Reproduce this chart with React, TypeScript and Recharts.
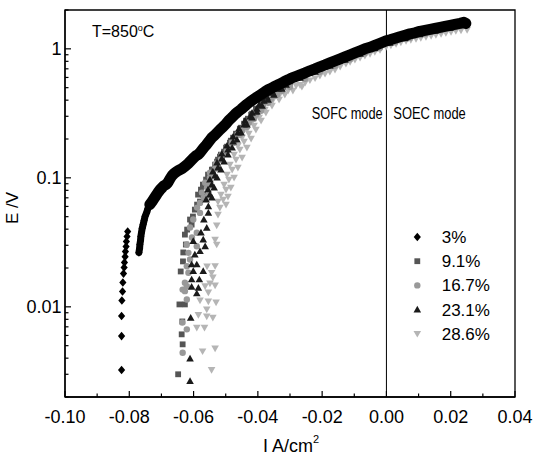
import React from 'react';
import {
  ScatterChart,
  Scatter,
  XAxis,
  YAxis,
  ReferenceLine,
  ReferenceArea,
  Customized,
} from 'recharts';

// ---------- tick values ----------
const xTicks = [-0.1, -0.09, -0.08, -0.07, -0.06, -0.05, -0.04, -0.03, -0.02, -0.01, 0, 0.01, 0.02, 0.03, 0.04];
const yMajorTicks = [0.01, 0.1, 1];
const yMinorTicks = [
  0.002, 0.003, 0.004, 0.005, 0.006, 0.007, 0.008, 0.009,
  0.02, 0.03, 0.04, 0.05, 0.06, 0.07, 0.08, 0.09,
  0.2, 0.3, 0.4, 0.5, 0.6, 0.7, 0.8, 0.9, 2,
];
const yTicks = [...yMinorTicks, ...yMajorTicks].sort((a, b) => a - b);

// ---------- series names ----------
const seriesNames = ['3%', '9.1%', '16.7%', '23.1%', '28.6%'];

// ---------- data: [I (A/cm2), E (V)] ----------
// 3% : isolated low-current column
const s3Column: [number, number][] = [
  [-0.0805, 0.0383], [-0.0807, 0.0351], [-0.0809, 0.0321], [-0.081, 0.0293], [-0.0812, 0.0268],
  [-0.0813, 0.0245], [-0.0815, 0.0221], [-0.0816, 0.0202], [-0.0818, 0.0181], [-0.082, 0.01545],
  [-0.0821, 0.01316], [-0.0823, 0.0112], [-0.0824, 0.00848], [-0.0824, 0.00593], [-0.0824, 0.00324],
];
// 3% : steep lower part of the dense band
const s3BandLow: [number, number][] = [
  [-0.077, 0.0264], [-0.0768, 0.0283], [-0.0767, 0.0304], [-0.0765, 0.0327], [-0.0764, 0.0351],
  [-0.0762, 0.0377], [-0.076, 0.0404], [-0.0757, 0.0434], [-0.0754, 0.0466], [-0.0751, 0.0501],
  [-0.0746, 0.0538], [-0.0742, 0.0578], [-0.0736, 0.062],
];
// 3% : rest of the dense band
const s3BandHigh: [number, number][] = [
  [-0.0736, 0.062], [-0.0729, 0.0655], [-0.0723, 0.0691],
  [-0.0717, 0.0728], [-0.0711, 0.0768], [-0.0704, 0.081], [-0.0698, 0.084], [-0.0692, 0.0871],
  [-0.0686, 0.0886], [-0.068, 0.0918], [-0.0673, 0.0986], [-0.0667, 0.104], [-0.0661, 0.1078],
  [-0.0655, 0.1107], [-0.0648, 0.1136], [-0.0642, 0.1157], [-0.0636, 0.1178], [-0.063, 0.121],
  [-0.0624, 0.1243], [-0.0617, 0.1288], [-0.0611, 0.1335], [-0.0605, 0.1383], [-0.0599, 0.1433],
  [-0.0592, 0.1485], [-0.0586, 0.1512], [-0.058, 0.1567], [-0.0574, 0.1638], [-0.0568, 0.1713],
  [-0.0561, 0.1791], [-0.0555, 0.1873], [-0.0549, 0.1957], [-0.0543, 0.2047], [-0.0536, 0.2121],
  [-0.053, 0.2198], [-0.0524, 0.2278], [-0.0518, 0.236], [-0.0508, 0.249], [-0.0499, 0.2628],
  [-0.049, 0.2796], [-0.048, 0.2949], [-0.0471, 0.3112], [-0.0462, 0.3254], [-0.0452, 0.3402],
  [-0.0443, 0.3557], [-0.0434, 0.3719], [-0.0424, 0.3888], [-0.0415, 0.4029], [-0.0406, 0.4175],
  [-0.0396, 0.4327], [-0.0387, 0.4484], [-0.0378, 0.4647], [-0.0368, 0.4817], [-0.0359, 0.4944],
  [-0.035, 0.508], [-0.034, 0.522], [-0.0331, 0.536], [-0.0319, 0.555], [-0.0306, 0.575],
  [-0.0294, 0.596], [-0.0281, 0.6125], [-0.0269, 0.629], [-0.0253, 0.652], [-0.0238, 0.676],
  [-0.0222, 0.7003], [-0.0207, 0.726], [-0.0191, 0.752], [-0.0176, 0.779], [-0.016, 0.807],
  [-0.0144, 0.837], [-0.0129, 0.867], [-0.0113, 0.899], [-0.0098, 0.931], [-0.0082, 0.965],
  [-0.0067, 1.0], [-0.0051, 1.027], [-0.0036, 1.064], [-0.002, 1.103], [-0.0001, 1.153],
  [0.0011, 1.174], [0.0027, 1.206], [0.0042, 1.239], [0.0058, 1.272], [0.0073, 1.306],
  [0.0089, 1.33], [0.0104, 1.366], [0.012, 1.39], [0.0136, 1.415], [0.0151, 1.441],
  [0.0167, 1.467], [0.0182, 1.493], [0.0198, 1.52], [0.0213, 1.547], [0.0229, 1.575],
  [0.0241, 1.604], [0.0247, 1.575],
];
const s91: [number, number][] = [
  [-0.0648, 0.003], [-0.0634, 0.00512], [-0.0637, 0.00612], [-0.0635, 0.0077], [-0.0644, 0.01044],
  [-0.0627, 0.01044], [-0.064, 0.0188], [-0.0633, 0.0225], [-0.0632, 0.0264], [-0.0624, 0.0304],
  [-0.0627, 0.0363], [-0.062, 0.0397], [-0.0606, 0.0434], [-0.0611, 0.0475], [-0.0602, 0.0501],
  [-0.0596, 0.0567], [-0.0589, 0.062], [-0.058, 0.0655], [-0.0586, 0.0741], [-0.0577, 0.081],
  [-0.0571, 0.0886], [-0.0561, 0.0969], [-0.0555, 0.1059], [-0.0543, 0.1157], [-0.0533, 0.1265],
  [-0.0524, 0.1383], [-0.0518, 0.1459], [-0.0505, 0.1595], [-0.0496, 0.1744], [-0.0487, 0.1873],
  [-0.0477, 0.2047], [-0.0468, 0.2198], [-0.0456, 0.2403], [-0.0443, 0.2628], [-0.0431, 0.2873],
  [-0.0418, 0.3141], [-0.0406, 0.3432], [-0.039, 0.3752], [-0.0375, 0.4102], [-0.0359, 0.4406],
  [-0.034, 0.4731], [-0.0322, 0.508], [-0.03, 0.5455], [-0.0269, 0.607], [-0.0238, 0.655],
  [-0.0207, 0.7003], [-0.0176, 0.752], [-0.0144, 0.807], [-0.0113, 0.866], [-0.0082, 0.931],
  [-0.004, 1.02], [-0.0001, 1.113], [0.0036, 1.19], [0.0073, 1.261], [0.0105, 1.315],
  [0.0136, 1.366], [0.0167, 1.418], [0.0198, 1.467], [0.0244, 1.534],
  [-0.0571, 0.0741], [-0.0564, 0.0871], [-0.0552, 0.1004], [-0.054, 0.1157], [-0.0527, 0.1335],
  [-0.0515, 0.1512], [-0.0499, 0.1713], [-0.0484, 0.194], [-0.0468, 0.216], [-0.0452, 0.2446],
  [-0.0437, 0.2772], [-0.0421, 0.3084], [-0.0403, 0.3432], [-0.0384, 0.382], [-0.0365, 0.4251],
];
const s167: [number, number][] = [
  [-0.0634, 0.00441], [-0.0621, 0.00669], [-0.0635, 0.00756], [-0.0621, 0.0114], [-0.0627, 0.01323],
  [-0.0634, 0.0136], [-0.0621, 0.01446], [-0.0627, 0.01537], [-0.0616, 0.01836], [-0.0621, 0.02065],
  [-0.0611, 0.0233], [-0.0616, 0.0262], [-0.059, 0.0295], [-0.0621, 0.0304], [-0.0605, 0.0345],
  [-0.059, 0.0375], [-0.0611, 0.0412], [-0.0601, 0.0475], [-0.058, 0.0535], [-0.0589, 0.0588],
  [-0.058, 0.0639], [-0.0568, 0.0703], [-0.0574, 0.0768], [-0.0558, 0.084], [-0.0564, 0.0918],
  [-0.0549, 0.1004], [-0.0549, 0.1097], [-0.0533, 0.1178], [-0.053, 0.1288], [-0.0515, 0.1383],
  [-0.0512, 0.1512], [-0.0496, 0.1624], [-0.049, 0.1744], [-0.0474, 0.1873], [-0.0471, 0.2011],
  [-0.0456, 0.216], [-0.0449, 0.2318], [-0.0434, 0.249], [-0.0428, 0.2675], [-0.0412, 0.2873],
  [-0.0406, 0.3084], [-0.039, 0.3312], [-0.0384, 0.3557], [-0.0368, 0.382], [-0.0359, 0.4102],
  [-0.034, 0.4406], [-0.0325, 0.4731], [-0.03, 0.508], [-0.0253, 0.5857], [-0.0207, 0.6637],
  [-0.016, 0.7385], [-0.0113, 0.8295], [-0.0067, 0.9229], [-0.002, 1.018], [0.0027, 1.123],
  [0.0073, 1.216], [0.012, 1.306], [0.0167, 1.39], [0.0213, 1.467], [0.0248, 1.52],
  [-0.0555, 0.0728], [-0.0549, 0.0871], [-0.054, 0.104], [-0.0524, 0.1221], [-0.0512, 0.1433],
  [-0.0496, 0.1653], [-0.048, 0.1906], [-0.0462, 0.2198], [-0.0443, 0.249], [-0.0424, 0.2822],
  [-0.0406, 0.3196], [-0.0387, 0.3557], [-0.0368, 0.3959], [-0.0347, 0.4327],
];
const s231: [number, number][] = [
  [-0.0611, 0.00266], [-0.0611, 0.00397], [-0.0609, 0.00823], [-0.059, 0.0127], [-0.0606, 0.0143],
  [-0.0585, 0.01405], [-0.0606, 0.0163], [-0.0582, 0.0163], [-0.0601, 0.0189], [-0.057, 0.0189],
  [-0.0606, 0.0213], [-0.059, 0.0213], [-0.0596, 0.0254], [-0.058, 0.027], [-0.0564, 0.0295],
  [-0.0601, 0.0323], [-0.057, 0.0332], [-0.0577, 0.0377], [-0.0559, 0.0409], [-0.0568, 0.0475],
  [-0.0554, 0.0535], [-0.0554, 0.0602], [-0.0561, 0.0678], [-0.0549, 0.0741], [-0.0555, 0.081],
  [-0.0543, 0.0886], [-0.0549, 0.0969], [-0.0533, 0.104], [-0.054, 0.1117], [-0.0524, 0.12],
  [-0.0527, 0.1311], [-0.0512, 0.1408], [-0.0512, 0.1539], [-0.0493, 0.1653], [-0.0496, 0.1775],
  [-0.0477, 0.1906], [-0.0477, 0.2084], [-0.0462, 0.2238], [-0.0459, 0.2403], [-0.0443, 0.2581],
  [-0.044, 0.2772], [-0.0424, 0.2977], [-0.0418, 0.3196], [-0.0403, 0.3432], [-0.0396, 0.3686],
  [-0.0381, 0.3959], [-0.0372, 0.4251], [-0.0353, 0.4566], [-0.0337, 0.4901], [-0.0312, 0.526],
  [-0.0269, 0.5964], [-0.0222, 0.6637], [-0.0176, 0.7385], [-0.0129, 0.8221], [-0.0082, 0.9147],
  [-0.0036, 1.009], [0.0011, 1.113], [0.0058, 1.206], [0.0104, 1.295], [0.0151, 1.378],
  [0.0198, 1.454], [0.0244, 1.534],
  [-0.0543, 0.0703], [-0.0536, 0.084], [-0.0527, 0.1004], [-0.0515, 0.1157], [-0.0505, 0.1335],
  [-0.0493, 0.1512], [-0.048, 0.1713], [-0.0465, 0.1976], [-0.0452, 0.2238], [-0.0434, 0.2581],
  [-0.0418, 0.2924], [-0.0403, 0.3254], [-0.0387, 0.362], [-0.0368, 0.4029], [-0.035, 0.4406],
  [-0.0325, 0.4901],
];
const s286: [number, number][] = [
  [-0.0544, 0.00324], [-0.0572, 0.00452], [-0.0533, 0.00476], [-0.059, 0.00689], [-0.0566, 0.00689],
  [-0.0585, 0.00866], [-0.0559, 0.00843], [-0.054, 0.00823], [-0.058, 0.0112], [-0.0554, 0.011],
  [-0.053, 0.0108], [-0.0559, 0.00955], [-0.0554, 0.01293], [-0.0564, 0.01446], [-0.0533, 0.01464],
  [-0.0549, 0.01518], [-0.054, 0.01689], [-0.0544, 0.01836], [-0.0558, 0.02055], [-0.0533, 0.0207],
  [-0.0528, 0.0304], [-0.0533, 0.0332], [-0.0528, 0.0427], [-0.0524, 0.0519], [-0.0524, 0.0654],
  [-0.0518, 0.0588], [-0.0508, 0.0678], [-0.0515, 0.0741], [-0.0499, 0.081], [-0.0505, 0.0886],
  [-0.049, 0.0969], [-0.0496, 0.1059], [-0.048, 0.1157], [-0.0487, 0.1265], [-0.0468, 0.1383],
  [-0.0474, 0.1512], [-0.0456, 0.1653], [-0.0462, 0.1775], [-0.0443, 0.1906], [-0.0449, 0.2047],
  [-0.0428, 0.2198], [-0.0434, 0.236], [-0.0412, 0.2535], [-0.0418, 0.2722], [-0.0396, 0.2924],
  [-0.0403, 0.3141], [-0.0378, 0.3372], [-0.0384, 0.362], [-0.0356, 0.3888], [-0.0362, 0.4102],
  [-0.0334, 0.4327], [-0.034, 0.4566], [-0.0306, 0.4731], [-0.0312, 0.499], [-0.0281, 0.5172],
  [-0.0269, 0.526], [-0.0253, 0.5455], [-0.0238, 0.5705], [-0.0222, 0.5909], [-0.0207, 0.618],
  [-0.0191, 0.6405], [-0.0176, 0.6637], [-0.016, 0.6879], [-0.0144, 0.726], [-0.0126, 0.7655],
  [-0.0113, 0.793], [-0.0098, 0.8221], [-0.0082, 0.852], [-0.0067, 0.8827], [-0.0051, 0.9147],
  [-0.0036, 0.9479], [-0.002, 0.982], [-0.0001, 1.036], [0.0014, 1.064], [0.003, 1.093],
  [0.0045, 1.123], [0.0061, 1.153], [0.0076, 1.174], [0.0092, 1.195], [0.0107, 1.216],
  [0.0123, 1.239], [0.0139, 1.261], [0.0154, 1.284], [0.017, 1.306], [0.0185, 1.33],
  [0.0201, 1.354], [0.0216, 1.378], [0.0232, 1.39], [0.0251, 1.403],
  [-0.0499, 0.062], [-0.0493, 0.0715], [-0.0484, 0.084], [-0.0474, 0.1004], [-0.0462, 0.12],
  [-0.0449, 0.1433], [-0.0434, 0.1713], [-0.0421, 0.2011], [-0.0406, 0.236], [-0.039, 0.2772],
  [-0.0375, 0.3196], [-0.0356, 0.362], [-0.0334, 0.4029], [-0.0316, 0.4406], [-0.0291, 0.4731],
  [-0.0263, 0.508],
];

const toPts = (arr: [number, number][]) => arr.map(([i, e]) => ({ i, e }));

const FONT = 'Liberation Sans, Arial, sans-serif';

type Kind = 'diamond' | 'square' | 'circle' | 'triangle' | 'tridown';
const seriesStyle: { kind: Kind; fill: string }[] = [
  { kind: 'diamond', fill: '#000000' },
  { kind: 'square', fill: '#555555' },
  { kind: 'circle', fill: '#999999' },
  { kind: 'triangle', fill: '#1a1a1a' },
  { kind: 'tridown', fill: '#b5b5b5' },
];

function Marker({ kind, cx, cy, fill }: { kind: Kind; cx: number; cy: number; fill: string }) {
  if (cx == null || cy == null || isNaN(cx) || isNaN(cy)) return null;
  switch (kind) {
    case 'diamond':
      return <path d={`M${cx} ${cy - 4.3}L${cx + 3.6} ${cy}L${cx} ${cy + 4.3}L${cx - 3.6} ${cy}Z`} fill={fill} />;
    case 'square':
      return <rect x={cx - 2.9} y={cy - 2.9} width={5.8} height={5.8} fill={fill} />;
    case 'circle':
      return <circle cx={cx} cy={cy} r={3.2} fill={fill} />;
    case 'triangle':
      return <path d={`M${cx} ${cy - 3.8}L${cx + 3.8} ${cy + 2.9}L${cx - 3.8} ${cy + 2.9}Z`} fill={fill} />;
    case 'tridown':
      return <path d={`M${cx} ${cy + 3.8}L${cx + 3.8} ${cy - 2.9}L${cx - 3.8} ${cy - 2.9}Z`} fill={fill} />;
  }
  return null;
}

const shapeFor = (idx: number) => (p: any) =>
  <Marker kind={seriesStyle[idx].kind} cx={p.cx} cy={p.cy} fill={seriesStyle[idx].fill} />;

const XTick = (props: any) => {
  const { x, y, payload } = props;
  const v = payload.value as number;
  const major = Math.round(Math.abs(v) * 100) % 2 === 0;
  return (
    <g>
      <line x1={x} y1={y} x2={x} y2={y - (major ? 6 : 3.5)} stroke="#000" strokeWidth={1.2} />
      {major && (
        <text x={x} y={y + 26} textAnchor="middle" fontSize={18} fontFamily={FONT} fill="#000">
          {Math.abs(v) < 1e-9 ? '0.00' : v.toFixed(2)}
        </text>
      )}
    </g>
  );
};

const YTick = (props: any) => {
  const { x, y, payload } = props;
  const v = payload.value as number;
  const major = yMajorTicks.some((m) => Math.abs(m - v) < 1e-9);
  return (
    <g>
      <line x1={x} y1={y} x2={x + (major ? 6 : 3.5)} y2={y} stroke="#000" strokeWidth={1.2} />
      {major && (
        <text x={x - 3.5} y={y + 6.5} textAnchor="end" fontSize={18} fontFamily={FONT} fill="#000">
          {String(v)}
        </text>
      )}
    </g>
  );
};

const legendRows = [237, 261.2, 285.4, 309.6, 333.8];

const Annotations = () => (
  <g fontFamily={FONT} fill="#000">
    <text x={92} y={37} fontSize={16}>
      T=850<tspan fontSize={9} dy={-6}>o</tspan><tspan dy={6}>C</tspan>
    </text>
    <text x={311.7} y={119} fontSize={16} textLength={71} lengthAdjust="spacingAndGlyphs">SOFC mode</text>
    <text x={393.3} y={119} fontSize={16} textLength={72.5} lengthAdjust="spacingAndGlyphs">SOEC mode</text>
    <text x={18} y={208} fontSize={17} textAnchor="middle" transform="rotate(-90 18 208)">E /V</text>
    <text x={263} y={452} fontSize={18}>
      I A/cm<tspan fontSize={11} dy={-9}>2</tspan>
    </text>
    {seriesNames.map((name, k) => (
      <g key={name}>
        <Marker kind={seriesStyle[k].kind} cx={417.3} cy={legendRows[k]} fill={seriesStyle[k].fill} />
        <text x={441.7} y={legendRows[k] + 6} fontSize={17}>{name}</text>
      </g>
    ))}
  </g>
);

export default function App() {
  return (
    <div style={{ position: 'absolute', left: 0, top: 0, width: 534, height: 458, background: '#fff' }}>
      <ScatterChart width={534} height={458} margin={{ top: 10, right: 19, bottom: 0, left: 0 }}>
        <XAxis
          type="number"
          dataKey="i"
          domain={[-0.1, 0.04]}
          ticks={xTicks}
          interval={0}
          allowDataOverflow
          tick={<XTick />}
          tickSize={0}
          tickMargin={0}
          tickLine={false}
          axisLine={{ stroke: '#000', strokeWidth: 1.3 }}
          height={61}
        />
        <YAxis
          type="number"
          dataKey="e"
          scale="log"
          domain={[0.002, 2]}
          ticks={yTicks}
          interval={0}
          allowDataOverflow
          tick={<YTick />}
          tickSize={0}
          tickMargin={0}
          tickLine={false}
          axisLine={{ stroke: '#000', strokeWidth: 1.3 }}
          width={65}
        />
        <ReferenceArea x1={-0.1} x2={0.04} y1={0.002} y2={2} fill="none" stroke="#000" strokeWidth={1.3} ifOverflow="visible" />
        <ReferenceLine x={0} stroke="#000" strokeWidth={1} />
        <Scatter name={seriesNames[4]} data={toPts(s286)} shape={shapeFor(4)} isAnimationActive={false} />
        <Scatter name={seriesNames[1]} data={toPts(s91)} shape={shapeFor(1)} isAnimationActive={false} />
        <Scatter name={seriesNames[2]} data={toPts(s167)} shape={shapeFor(2)} isAnimationActive={false} />
        <Scatter name={seriesNames[3]} data={toPts(s231)} shape={shapeFor(3)} isAnimationActive={false} />
        <Scatter name={seriesNames[0]} data={toPts(s3Column)} shape={shapeFor(0)} isAnimationActive={false} />
        <Scatter
          name={seriesNames[0] + ' low'}
          data={toPts(s3BandLow)}
          shape={shapeFor(0)}
          line={{ stroke: '#000', strokeWidth: 7, strokeLinejoin: 'round', strokeLinecap: 'round' } as any}
          isAnimationActive={false}
        />
        <Scatter
          name={seriesNames[0] + ' band'}
          data={toPts(s3BandHigh)}
          shape={shapeFor(0)}
          line={{ stroke: '#000', strokeWidth: 11, strokeLinejoin: 'round', strokeLinecap: 'round' } as any}
          isAnimationActive={false}
        />
        <Customized component={Annotations} />
      </ScatterChart>
    </div>
  );
}
